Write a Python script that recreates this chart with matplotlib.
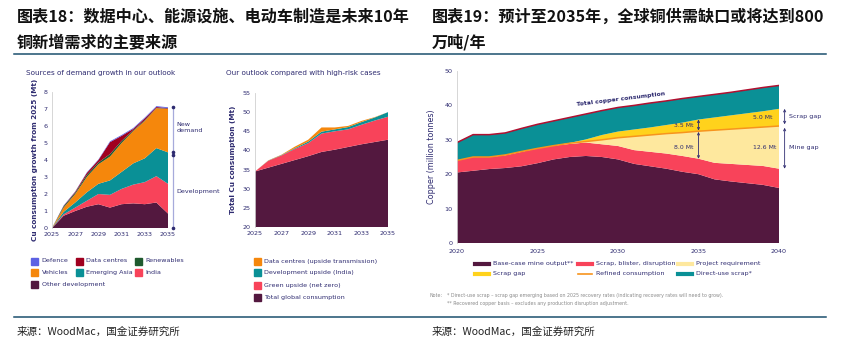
import numpy as np
import matplotlib
matplotlib.use("Agg")
import matplotlib.pyplot as plt
from matplotlib.patches import Rectangle
from matplotlib.lines import Line2D

plt.rcParams['font.family'] = ['DejaVu Sans', 'Noto Sans CJK SC']

# ---- panel 1: sources of demand growth (Mt, growth from 2025) ----
years1 = [2025, 2026, 2027, 2028, 2029, 2030, 2031, 2032, 2033, 2034, 2035]
other_dev = [0, 0.72, 1.0, 1.25, 1.4, 1.2, 1.4, 1.45, 1.4, 1.5, 0.85]
india = [0, 0.08, 0.2, 0.35, 0.6, 0.75, 0.9, 1.1, 1.3, 1.55, 1.75]
emerging_asia = [0, 0.15, 0.3, 0.5, 0.6, 0.85, 1.0, 1.25, 1.4, 1.65, 1.85]
vehicles = [0, 0.25, 0.5, 0.9, 1.15, 1.4, 1.7, 1.9, 2.2, 2.35, 2.55]
renewables = [0, 0.08, 0.08, 0.12, 0.1, 0.15, 0.12, 0.05, 0.05, 0.02, 0.02]
data_centres = [0, 0.02, 0.05, 0.12, 0.15, 0.7, 0.3, 0.08, 0.1, 0.05, 0.03]
defence = [0, 0.02, 0.02, 0.03, 0.03, 0.05, 0.05, 0.05, 0.05, 0.05, 0.05]

# ---- panel 2: total consumption vs high-risk cases (Mt) ----
years2 = [2025, 2026, 2027, 2028, 2029, 2030, 2031, 2032, 2033, 2034, 2035]
total_global = [34.5, 35.5, 36.5, 37.5, 38.5, 39.6, 40.2, 40.9, 41.6, 42.2, 42.8]
green_upside = [0, 1.8, 2.2, 2.9, 3.4, 4.8, 4.8, 4.6, 5.1, 5.6, 6.0]
dev_upside = [0, 0.05, 0.1, 0.2, 0.4, 0.5, 0.5, 0.6, 0.7, 0.8, 1.2]
dc_upside = [0, 0.05, 0.1, 0.4, 0.5, 1.1, 0.5, 0.3, 0.3, 0.1, 0.0]

# ---- panel 3: copper supply / demand 2020-2040 (Mt) ----
years3 = [2020, 2021, 2022, 2023, 2024, 2025, 2026, 2027, 2028, 2029, 2030,
          2031, 2032, 2033, 2034, 2035, 2036, 2037, 2038, 2039, 2040]
mine_output = [20.5, 21.0, 21.5, 21.8, 22.3, 23.2, 24.3, 25.0, 25.3, 25.0, 24.3,
               23.0, 22.3, 21.6, 20.7, 20.0, 18.5, 17.9, 17.4, 16.9, 16.0]
scrap_blister = [3.5, 4.0, 3.5, 3.7, 4.2, 4.3, 4.0, 3.8, 3.9, 3.7, 3.9,
                 4.0, 4.2, 4.4, 4.6, 4.5, 4.8, 5.1, 5.3, 5.5, 5.6]
project_req = [0, 0, 0, 0.1, 0.1, 0, 0, 0.2, 0.3, 1.3, 2.4,
               4.0, 4.9, 5.8, 6.8, 8.0, 9.5, 10.1, 10.7, 11.3, 12.4]
scrap_gap = [0, 0, 0, 0, 0, 0, 0, 0.1, 0.6, 1.4, 1.8,
             2.0, 2.2, 2.5, 2.9, 3.4, 3.7, 4.0, 4.3, 4.6, 5.0]
direct_use = [5.2, 6.5, 6.5, 6.4, 6.7, 7.0, 7.2, 7.4, 7.4, 7.1, 7.0,
              7.0, 7.1, 7.0, 7.0, 6.7, 6.7, 6.7, 6.8, 6.9, 6.8]

PURPLE = '#53183F'
PINK = '#F8435A'
TEAL = '#0A9096'
ORANGE = '#F5870C'
GREEN = '#1F5A2E'
DRED = '#A0001F'
BLUE = '#5C61E3'
NAVY = '#2E2B70'
LYELLOW = '#FEE89E'
YELLOW = '#FFD21C'
ORLINE = '#F7941D'
TOTLINE = '#B01030'
RULE = '#1B4F6E'

W, H = 841, 353
fig = plt.figure(figsize=(W / 100, H / 100), dpi=100)


def px_axes(x0, y0, x1, y1):
    return fig.add_axes([x0 / W, 1 - y1 / H, (x1 - x0) / W, (y1 - y0) / H])


def style(ax, fs):
    for s in ['top', 'right', 'bottom']:
        ax.spines[s].set_visible(False)
    ax.spines['left'].set_color('#D0D0D0')
    ax.spines['left'].set_linewidth(0.6)
    ax.tick_params(length=0, labelsize=fs, labelcolor=NAVY, pad=3)


def box_item(x, y, color, label):
    fig.add_artist(Rectangle((x / W, 1 - (y + 3.5) / H), 7 / W, 7 / H,
                             transform=fig.transFigure, color=color))
    fig.text((x + 10.5) / W, 1 - y / H, label, fontsize=4.6, color=NAVY, va='center')


def line_item(x, y, color, label, lw):
    fig.add_artist(Line2D([x / W, (x + 14) / W], [1 - y / H, 1 - y / H],
                          transform=fig.transFigure, color=color, lw=lw))
    fig.text((x + 18) / W, 1 - y / H, label, fontsize=4.6, color=NAVY, va='center')


# titles and rules
cjk = ['Noto Sans CJK SC']
titles = [(17, '图表18：数据中心、能源设施、电动车制造是未来10年', '铜新增需求的主要来源'),
          (432, '图表19：预计至2035年，全球铜供需缺口或将达到800', '万吨/年')]
for xx, l1, l2 in titles:
    fig.text(xx / W, 1 - 17 / H, l1, family=cjk, fontsize=11.6, fontweight='bold',
             va='center', color='#111111')
    fig.text(xx / W, 1 - 42 / H, l2, family=cjk, fontsize=11.6, fontweight='bold',
             va='center', color='#111111')
for yy in [54, 317]:
    fig.add_artist(Line2D([14 / W, 826 / W], [1 - yy / H, 1 - yy / H],
                          transform=fig.transFigure, color=RULE, lw=1.1))
for xx in [17, 432]:
    fig.text(xx / W, 1 - 332 / H, '来源：WoodMac，国金证券研究所', family=cjk,
             fontsize=7.6, va='center', color='#222222')

# ---- panel 1 ----
ax1 = px_axes(52, 92, 168, 228)
ax1.stackplot(years1, other_dev, india, emerging_asia, vehicles, renewables,
              data_centres, defence,
              colors=[PURPLE, PINK, TEAL, ORANGE, GREEN, DRED, BLUE], lw=0)
ax1.set_xlim(2025, 2035)
ax1.set_ylim(0, 8)
ax1.set_xticks([2025, 2027, 2029, 2031, 2033, 2035])
ax1.set_yticks(range(0, 9))
style(ax1, 4.6)
ax1.set_ylabel('Cu consumption growth from 2025 (Mt)', fontsize=5.2, fontweight='bold',
               color=NAVY, labelpad=4)
fig.text(26 / W, 1 - 73 / H, 'Sources of demand growth in our outlook', fontsize=5.2,
         color=NAVY, va='center')

dev_total = other_dev[-1] + india[-1] + emerging_asia[-1]
all_total = dev_total + vehicles[-1] + renewables[-1] + data_centres[-1] + defence[-1]
bx = 2035.45
ax1.plot([bx, bx], [all_total, dev_total + 0.05], color='#A7AADB', lw=0.9, clip_on=False,
         marker='o', ms=1.6, mfc=NAVY, mec=NAVY)
ax1.plot([bx, bx], [dev_total - 0.15, 0], color='#A7AADB', lw=0.9, clip_on=False,
         marker='o', ms=1.6, mfc=NAVY, mec=NAVY)
ax1.text(2035.75, 5.9, 'New\ndemand', fontsize=4.6, color=NAVY, va='center', clip_on=False)
ax1.text(2035.75, 2.15, 'Development', fontsize=4.6, color=NAVY, va='center', clip_on=False)

box_item(31, 261, BLUE, 'Defence')
box_item(76, 261, DRED, 'Data centres')
box_item(135, 261, GREEN, 'Renewables')
box_item(31, 272.5, ORANGE, 'Vehicles')
box_item(76, 272.5, TEAL, 'Emerging Asia')
box_item(135, 272.5, PINK, 'India')
box_item(31, 284.5, PURPLE, 'Other development')

# ---- panel 2 ----
ax2 = px_axes(255, 93, 388, 227)
ax2.stackplot(years2, total_global, green_upside, dev_upside, dc_upside,
              colors=[PURPLE, PINK, TEAL, ORANGE], lw=0, baseline='zero')
ax2.set_xlim(2025, 2035)
ax2.set_ylim(20, 55)
ax2.set_xticks([2025, 2027, 2029, 2031, 2033, 2035])
ax2.set_yticks(range(20, 56, 5))
style(ax2, 4.6)
ax2.set_ylabel('Total Cu consumption (Mt)', fontsize=5.2, fontweight='bold',
               color=NAVY, labelpad=5)
fig.text(226 / W, 1 - 73 / H, 'Our outlook compared with high-risk cases', fontsize=5.2,
         color=NAVY, va='center')

box_item(254, 261, ORANGE, 'Data centres (upside transmission)')
box_item(254, 272.5, TEAL, 'Development upside (India)')
box_item(254, 285, PINK, 'Green upside (net zero)')
box_item(254, 297.5, PURPLE, 'Total global consumption')

# ---- panel 3 ----
ax3 = px_axes(457, 71, 779, 243)
ax3.stackplot(years3, mine_output, scrap_blister, project_req, scrap_gap, direct_use,
              colors=[PURPLE, PINK, LYELLOW, YELLOW, TEAL], lw=0)
refined = np.array(mine_output) + np.array(scrap_blister) + np.array(project_req)
gap_top = refined + np.array(scrap_gap)
total = gap_top + np.array(direct_use)
ax3.plot(years3, refined, color=ORLINE, lw=1.1)
ax3.plot(years3, total, color=TOTLINE, lw=1.1)
ax3.set_xlim(2020, 2040)
ax3.set_ylim(0, 50)
ax3.set_xticks([2020, 2025, 2030, 2035, 2040])
ax3.set_yticks(range(0, 51, 10))
style(ax3, 4.6)
ax3.tick_params(axis='x', pad=4)
ax3.set_ylabel('Copper (million tonnes)', fontsize=5.8, color=NAVY, labelpad=6)
ax3.text(2030.2, 41.7, 'Total copper consumption', fontsize=4.4, fontweight='bold',
         color=NAVY, rotation=7, ha='center', va='center')

i35 = years3.index(2035)
i40 = years3.index(2040)
red35 = mine_output[i35] + scrap_blister[i35]
red40 = mine_output[i40] + scrap_blister[i40]
arrow = dict(arrowstyle='<->', color=NAVY, lw=0.6, shrinkA=0, shrinkB=0,
             mutation_scale=4)
ax3.annotate('', xy=(2035, red35), xytext=(2035, refined[i35] - 0.2), arrowprops=arrow)
ax3.annotate('', xy=(2035, refined[i35] + 0.2), xytext=(2035, gap_top[i35]), arrowprops=arrow)
ax3.text(2034.1, 27.8, '8.0 Mt', fontsize=4.4, color=NAVY, ha='center', va='center')
ax3.text(2034.1, 34.1, '3.5 Mt', fontsize=4.4, color=NAVY, ha='center', va='center')
ax3.text(2039.0, 36.4, '5.0 Mt', fontsize=4.4, color=NAVY, ha='center', va='center')
ax3.text(2039.1, 27.8, '12.6 Mt', fontsize=4.4, color=NAVY, ha='center', va='center')
ax3.annotate('', xy=(2040.35, gap_top[i40]), xytext=(2040.35, refined[i40] + 0.5),
             arrowprops=arrow, annotation_clip=False)
ax3.annotate('', xy=(2040.35, refined[i40] - 0.5), xytext=(2040.35, red40),
             arrowprops=arrow, annotation_clip=False)
ax3.text(2040.6, 36.9, 'Scrap gap', fontsize=4.6, color=NAVY, va='center', clip_on=False)
ax3.text(2040.6, 27.7, 'Mine gap', fontsize=4.6, color=NAVY, va='center', clip_on=False)

line_item(475, 264, PURPLE, 'Base-case mine output**', 3)
line_item(578, 264, PINK, 'Scrap, blister, disruption', 3)
line_item(678, 264, LYELLOW, 'Project requirement', 3)
line_item(475, 273.5, YELLOW, 'Scrap gap', 3)
line_item(578, 273.5, ORLINE, 'Refined consumption', 1.2)
line_item(678, 273.5, TEAL, 'Direct-use scrap*', 3)

fig.text(429 / W, 1 - 295.5 / H, 'Note:', fontsize=3.4, color='#8A8A8A', va='center')
fig.text(447 / W, 1 - 295.5 / H,
         '* Direct-use scrap \u2013 scrap gap emerging based on 2025 recovery rates '
         '(indicating recovery rates will need to grow).',
         fontsize=3.4, color='#8A8A8A', va='center')
fig.text(447 / W, 1 - 304 / H,
         '** Recovered copper basis \u2013 excludes any production disruption adjustment.',
         fontsize=3.4, color='#8A8A8A', va='center')

fig.savefig('out.png', dpi=100)
